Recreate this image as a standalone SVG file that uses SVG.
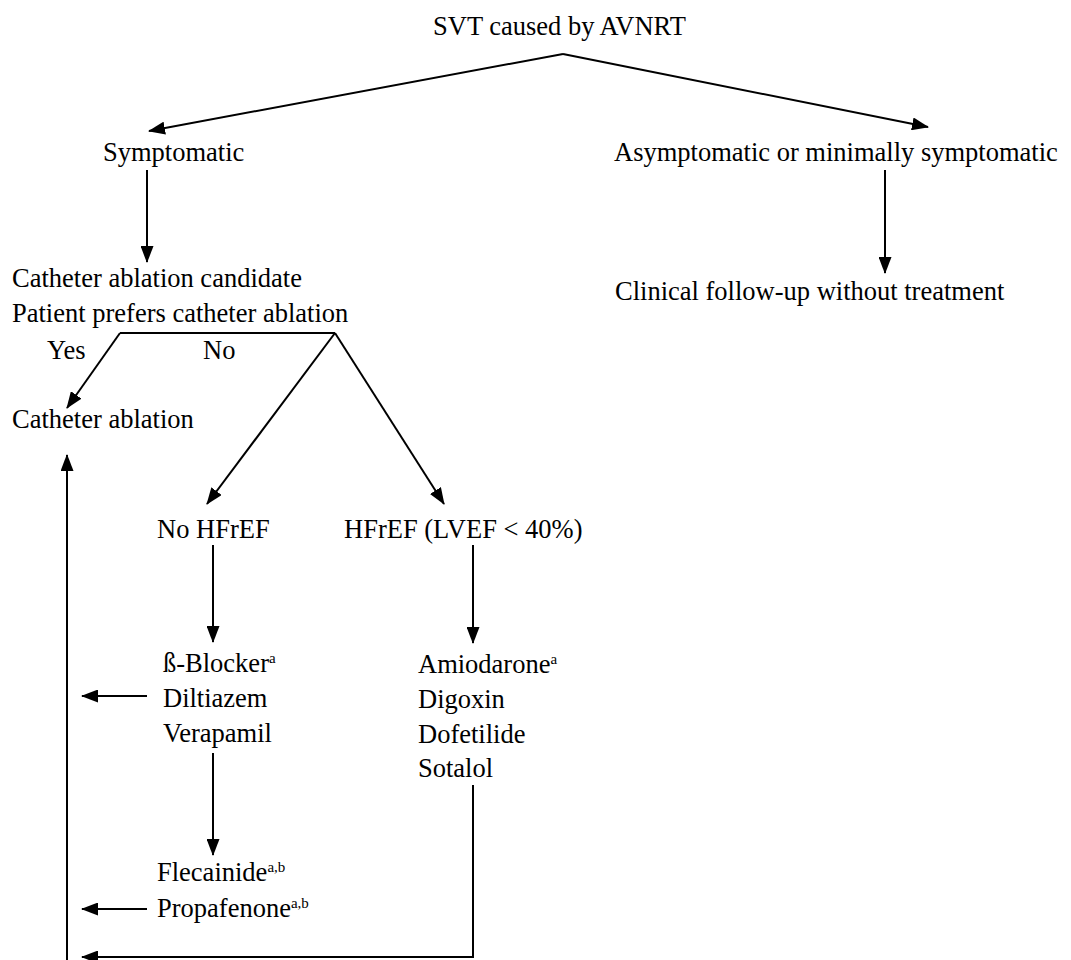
<svg xmlns="http://www.w3.org/2000/svg" width="1071" height="960" viewBox="0 0 1071 960">
<style>
text{font-family:"Liberation Serif","Times New Roman",serif;font-size:26.5px;fill:#000}
.sup{font-size:15px}
.c{fill:none;stroke:#000;stroke-width:2}
</style>
<defs>
<marker id="ah" markerWidth="17" markerHeight="13" refX="16" refY="6.5" orient="auto" markerUnits="userSpaceOnUse"><path d="M0,0 L17,6.5 L0,13 z" fill="#000"/></marker>
</defs>
<rect width="1071" height="960" fill="#fff"/>
<g id="connectors">
<path class="c" d="M563,54 L149,131" marker-end="url(#ah)" stroke-width="2.5"/>
<path class="c" d="M563,54 L928,127" marker-end="url(#ah)" stroke-width="2.5"/>
<path class="c" d="M147,170 L147,262" marker-end="url(#ah)"/>
<path class="c" d="M885,170 L885,273" marker-end="url(#ah)"/>
<path class="c" d="M120,333 L335,333"/>
<path class="c" d="M120,333 L67,408" marker-end="url(#ah)"/>
<path class="c" d="M335,333 L207,504" marker-end="url(#ah)"/>
<path class="c" d="M335,333 L444,504" marker-end="url(#ah)"/>
<path class="c" d="M213,545 L213,642" marker-end="url(#ah)"/>
<path class="c" d="M473,545 L473,643" marker-end="url(#ah)"/>
<path class="c" d="M147,696 L82,696" marker-end="url(#ah)"/>
<path class="c" d="M213,753 L213,855" marker-end="url(#ah)"/>
<path class="c" d="M147,909 L82,909" marker-end="url(#ah)"/>
<path class="c" d="M473,785 L473,957 L82,957" marker-end="url(#ah)"/>
<path class="c" d="M67,960 L67,455" marker-end="url(#ah)"/>
</g>
<g id="n-svt"><text x="433" y="35">SVT caused by AVNRT</text></g>
<g id="n-symptomatic"><text x="103" y="161">Symptomatic</text></g>
<g id="n-asymptomatic"><text x="614" y="161">Asymptomatic or minimally symptomatic</text></g>
<g id="n-followup"><text x="615" y="300">Clinical follow-up without treatment</text></g>
<g id="n-candidate"><text x="12" y="287">Catheter ablation candidate</text><text x="12" y="322">Patient prefers catheter ablation</text></g>
<g id="l-yes"><text x="47" y="359">Yes</text></g>
<g id="l-no"><text x="203" y="359">No</text></g>
<g id="n-ablation"><text x="12" y="428">Catheter ablation</text></g>
<g id="n-nohfref"><text x="157" y="538">No HFrEF</text></g>
<g id="n-hfref"><text x="344" y="538">HFrEF (LVEF &lt; 40%)</text></g>
<g id="n-bblocker"><text x="163" y="672">ß-Blocker<tspan class="sup" dy="-9">a</tspan></text><text x="163" y="707">Diltiazem</text><text x="163" y="742">Verapamil</text></g>
<g id="n-amiodarone"><text x="418" y="673">Amiodarone<tspan class="sup" dy="-9">a</tspan></text><text x="418" y="708">Digoxin</text><text x="418" y="743">Dofetilide</text><text x="418" y="777">Sotalol</text></g>
<g id="n-flecainide"><text x="157" y="881">Flecainide<tspan class="sup" dy="-9">a,b</tspan></text><text x="157" y="917">Propafenone<tspan class="sup" dy="-9">a,b</tspan></text></g>
</svg>
